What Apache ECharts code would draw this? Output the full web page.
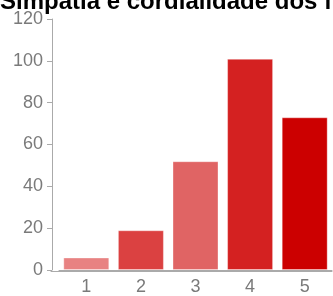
<!DOCTYPE html>
<html>
<head>
<meta charset="utf-8">
<script src="https://cdn.jsdelivr.net/npm/echarts@6/dist/echarts.min.js"></script>
<style>
  html, body { margin: 0; padding: 0; background: #fff; }
  #chart { width: 333px; height: 296px; }
</style>
</head>
<body>
<div id="chart"></div>
<script type="text/javascript">

// dados do grafico
var chartTitle = 'Simpatia e cordialidade dos funcionários';
var categories = ['1', '2', '3', '4', '5'];
var counts = [6, 19, 52, 101, 73];
var barColors = ['#e88282', '#db4141', '#e06464', '#d42121', '#cc0000'];
var yMax = 120;
var yStep = 20;

function draw(){
    var myChart = echarts.init(document.getElementById('chart'), null, {renderer: 'canvas'});
    var axisGray = '#aaaaaa';
    var labelGray = '#7a7a7a';
    var font = 'Arial, "Liberation Sans", sans-serif';

    var option = {
        animation: false,
        title: {
            text: chartTitle,
            left: 0,
            top: -10,
            padding: 0,
            textStyle: { fontFamily: font, fontSize: 24, fontWeight: 'bold', color: '#000' }
        },
        grid: [
            { left: 59, right: 1, top: 19, bottom: 25 },
            // so para prolongar a linha do eixo x ate o eixo y
            { left: 51, right: 1, top: 19, bottom: 25 }
        ],
        xAxis: [
            {
                type: 'category',
                gridIndex: 0,
                data: categories,
                axisLine: { lineStyle: { color: axisGray, width: 1 } },
                axisTick: { alignWithLabel: true, length: 5, lineStyle: { color: axisGray } },
                axisLabel: { color: labelGray, fontFamily: font, fontSize: 18, margin: 8 }
            },
            {
                type: 'value',
                gridIndex: 1,
                min: 0,
                max: 1,
                axisLine: { show: true, lineStyle: { color: axisGray, width: 1 } },
                axisTick: { show: false },
                axisLabel: { show: false },
                splitLine: { show: false }
            }
        ],
        yAxis: [
            {
                type: 'value',
                gridIndex: 0,
                min: 0,
                max: yMax,
                interval: yStep,
                offset: 7,
                axisLine: { show: true, lineStyle: { color: axisGray, width: 1 } },
                axisTick: { show: true, length: 5, lineStyle: { color: axisGray } },
                axisLabel: { color: labelGray, fontFamily: font, fontSize: 18, margin: 9 },
                splitLine: { show: false }
            },
            {
                type: 'value',
                gridIndex: 1,
                show: false
            }
        ],
        series: [
            {
                type: 'bar',
                xAxisIndex: 0,
                yAxisIndex: 0,
                barWidth: 46,
                data: counts.map(function(v, i){
                    return {
                        value: v,
                        itemStyle: {
                            color: barColors[i],
                            borderColor: 'rgba(255,255,255,0.35)',
                            borderWidth: 1
                        }
                    };
                })
            }
        ]
    };
    myChart.setOption(option);
}

draw();

</script>
</body>
</html>
